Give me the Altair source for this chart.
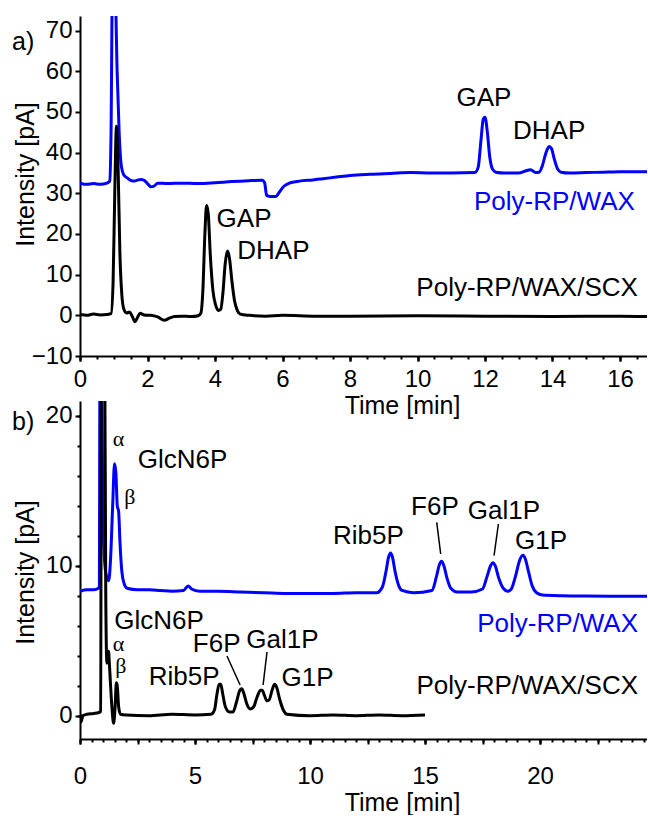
import altair as alt
import pandas as pd

FONT = "Liberation Sans"
SERIF = "Liberation Serif"
BLUE = "#0000ff"
BLACK = "#000000"

# ---------------- Panel a) data ----------------
a_wax_t = [0.0, 0.2, 0.4, 0.6, 0.8, 0.88, 0.92, 0.96, 1.04, 1.1, 1.16, 1.22, 1.3, 1.4, 1.5,
           1.62, 1.72, 1.82, 1.92, 2.02, 2.1, 2.2, 2.3, 2.6, 3.0, 3.5, 4.0, 4.5, 5.0, 5.4,
           5.47, 5.53, 5.65, 5.8, 5.9, 6.05, 6.2, 6.5, 6.9, 7.2, 7.6, 8.0, 8.6, 9.2, 9.8,
           10.4, 11.0, 11.7, 11.8, 11.88, 11.95, 12.0, 12.07, 12.14, 12.22, 12.32, 12.6,
           13.0, 13.2, 13.35, 13.5, 13.6, 13.7, 13.8, 13.9, 13.97, 14.05, 14.15, 14.25,
           14.5, 15.0, 15.5, 16.0, 16.8]
a_wax_v = [32.5, 32.2, 32.4, 32.2, 32.5, 33.0, 45.0, 80.0, 80.0, 60.0, 45.0, 37.0, 34.5, 33.8, 33.2,
           33.0, 33.3, 33.4, 33.1, 32.2, 31.6, 31.8, 32.5, 32.4, 32.5, 32.4, 32.6, 32.9, 33.1, 33.2,
           32.6, 29.5, 29.2, 29.2, 30.2, 31.8, 32.5, 33.0, 33.3, 33.6, 34.0, 34.4, 34.7, 34.9, 35.1,
           35.0, 35.0, 35.1, 36.5, 43.0, 48.3, 48.7, 45.0, 39.0, 36.0, 35.2, 35.0,
           35.0, 35.5, 35.8, 35.1, 35.2, 36.8, 39.8, 41.5, 41.0, 38.5, 36.0, 35.2,
           35.0, 35.1, 35.2, 35.3, 35.3]

a_scx_t = [0.0, 0.2, 0.4, 0.6, 0.8, 0.92, 0.98, 1.03, 1.08, 1.13, 1.18, 1.24, 1.3, 1.38, 1.47,
           1.55, 1.63, 1.7, 1.78, 1.9, 2.1, 2.3, 2.5, 2.65, 2.8, 3.0, 3.3, 3.5, 3.58, 3.64,
           3.7, 3.75, 3.8, 3.86, 3.94, 4.02, 4.1, 4.17, 4.24, 4.3, 4.37, 4.43, 4.5, 4.58,
           4.66, 4.75, 5.0, 5.5, 6.0, 7.0, 8.0, 10.0, 12.0, 14.0, 16.0, 16.8]
a_scx_v = [0.2, 0.0, 0.3, 0.1, 0.2, 0.4, 8.0, 30.0, 46.5, 36.0, 16.0, 5.0, 1.5, 0.6, 0.8,
           -0.3, -1.6, -0.6, 0.5, 0.1, 0.0, -0.4, -1.2, -0.7, -0.3, -0.2, -0.3, -0.1, 0.5, 6.0,
           20.0, 27.0, 25.0, 15.0, 6.0, 2.5, 1.2, 1.5, 6.0, 12.5, 15.8, 14.0, 8.5, 3.5,
           1.2, 0.3, 0.0, -0.2, 0.0, -0.2, -0.2, -0.1, -0.2, -0.3, -0.2, -0.3]

a_ann_label = ["GAP", "DHAP", "GAP", "DHAP"]
a_ann_t = [4.86, 5.73, 11.97, 13.9]
a_ann_v = [23.8, 15.9, 53.4, 45.4]

a_ser_label = ["Poly-RP/WAX", "Poly-RP/WAX/SCX"]
a_ser_t = [16.44, 16.53]
a_ser_v = [27.9, 6.7]
a_ser_color = [BLUE, BLACK]

a_x_labels = [0, 2, 4, 6, 8, 10, 12, 14, 16]
a_x_major = [0, 2, 4, 6, 8, 10, 12, 14, 16]
a_x_minor = [i * 0.5 for i in range(0, 34)]
a_y_labels = [-10, 0, 10, 20, 30, 40, 50, 60, 70]
a_y_minor = None

# ---------------- Panel b) data ----------------
b_wax_t = [0.0, 0.3, 0.6, 0.8, 0.84, 0.87, 0.93, 0.99, 1.06, 1.15, 1.25, 1.33, 1.42, 1.5, 1.56,
           1.62, 1.68, 1.74, 1.82, 1.92, 2.05, 2.5, 3.0, 3.5, 4.0, 4.5, 4.7, 4.85, 5.2, 6.0,
           7.0, 8.0, 9.0, 10.0, 11.0, 12.0, 12.9, 13.15, 13.3, 13.42, 13.5, 13.58, 13.7,
           13.85, 14.0, 14.5, 15.3, 15.5, 15.63, 15.72, 15.82, 15.95, 16.12, 16.4, 17.0,
           17.5, 17.7, 17.85, 17.95, 18.05, 18.2, 18.4, 18.6, 18.75, 18.95, 19.1, 19.25,
           19.35, 19.5, 19.65, 19.85, 20.1, 21.0, 22.0, 23.0, 24.65]
b_wax_v = [8.3, 8.4, 8.4, 8.5, 8.6, 25.0, 25.0, 14.0, 10.5, 9.3, 9.0, 10.5, 14.0, 16.8, 16.2,
           14.0, 13.6, 11.5, 9.6, 8.8, 8.5, 8.4, 8.4, 8.35, 8.3, 8.35, 8.65, 8.45, 8.3, 8.3,
           8.25, 8.2, 8.15, 8.15, 8.15, 8.2, 8.2, 8.6, 9.6, 10.6, 10.85, 10.6, 9.6,
           8.7, 8.35, 8.2, 8.35, 9.3, 10.1, 10.3, 10.0, 9.2, 8.5, 8.25, 8.25,
           8.45, 9.3, 10.0, 10.2, 10.0, 9.2, 8.5, 8.3, 8.45, 9.4, 10.3, 10.7,
           10.5, 9.6, 8.7, 8.2, 8.05, 8.0, 7.98, 7.97, 7.97]

b_scx_t = [0.0, 0.05, 0.12, 0.3, 0.6, 0.8, 0.9, 0.93, 1.07, 1.12, 1.17, 1.24, 1.28, 1.33, 1.4,
           1.46, 1.52, 1.58, 1.62, 1.68, 1.76, 2.0, 3.0, 4.0, 5.0, 5.7, 5.85, 5.95, 6.05,
           6.12, 6.2, 6.32, 6.5, 6.65, 6.8, 6.95, 7.03, 7.12, 7.25, 7.4, 7.55, 7.7, 7.85,
           7.92, 8.02, 8.12, 8.22, 8.35, 8.46, 8.55, 8.68, 8.85, 9.0, 10.0, 11.0, 12.0,
           13.0, 14.0, 15.0]
b_scx_v = [0.1, -0.4, 0.0, 0.1, 0.15, 0.2, 0.3, 25.0, 25.0, 8.0, 3.5, 4.3, 3.4, 2.0, 0.3,
           -0.5, 0.4, 2.2, 2.0, 0.6, 0.1, 0.05, 0.0, 0.1, 0.05, 0.1, 0.4, 1.4, 2.1,
           2.1, 1.5, 0.6, 0.25, 0.25, 0.9, 1.7, 1.8, 1.5, 0.8, 0.45, 0.6, 1.25, 1.7,
           1.7, 1.35, 1.0, 1.05, 1.7, 2.1, 1.9, 1.1, 0.35, 0.1, 0.0, 0.05, 0.0,
           0.05, 0.0, 0.05]

b_ann_label = ["GlcN6P", "GlcN6P", "Rib5P", "F6P", "Gal1P", "G1P", "Rib5P", "F6P", "Gal1P", "G1P"]
b_ann_t = [4.46, 3.44, 4.53, 5.94, 8.8, 9.89, 12.54, 15.43, 18.43, 20.04]
b_ann_v = [17.06, 6.3, 2.61, 4.78, 5.06, 2.51, 11.98, 13.91, 13.65, 11.65]

b_greek_label = ["α", "β", "α", "β"]
b_greek_t = [1.67, 2.17, 1.67, 1.78]
b_greek_v = [18.45, 14.6, 4.75, 3.3]

b_lead_t = [6.39, 8.13, 15.51, 18.19]
b_lead_v = [3.98, 4.25, 12.89, 12.78]
b_lead_t2 = [6.96, 7.96, 15.68, 18.0]
b_lead_v2 = [2.05, 2.05, 10.78, 10.67]

b_ser_label = ["Poly-RP/WAX", "Poly-RP/WAX/SCX"]
b_ser_t = [24.26, 24.26]
b_ser_v = [6.11, 1.95]
b_ser_color = [BLUE, BLACK]

b_x_labels = [0, 5, 10, 15, 20]
b_x_major = [0, 2.5, 5, 7.5, 10, 12.5, 15, 17.5, 20, 22.5]
b_x_minor = [i * 0.5 for i in range(0, 50)]
b_y_labels = [0, 10, 20]
b_y_minor = [0, 2, 4, 6, 8, 10, 12, 14, 16, 18, 20]

ANN_SIZE = 26


def tick_axis(values, size, orient):
    return alt.Axis(values=values, labels=False, domain=False, title=None, grid=False,
                    tickSize=size, orient=orient)


def panel(xdom, ydom, xlab, xmaj, xmin, ylab, ymin,
          wax, scx, ann, ser, tag, tag_y, x_lpad, x_title_y, y_title_y, height,
          greek=None, leads=None):
    xs = alt.Scale(domain=xdom, nice=False, zero=False)
    ys = alt.Scale(domain=ydom, nice=False, zero=False)
    x_main = alt.Axis(
        values=xlab, title="Time [min]", grid=False, tickSize=5, orient="bottom",
        labelPadding=x_lpad, labelFlush=False, labelOverlap=False,
        titleX=322, titleY=x_title_y, titleAlign="center", titleBaseline="middle",
    )
    y_main = alt.Axis(
        values=ylab, title="Intensity [pA]", grid=False, tickSize=5, orient="left",
        labelPadding=3, labelFlush=False, labelOverlap=False,
        titleX=-55, titleY=y_title_y, titleAngle=-90, titleAlign="center",
        titleBaseline="middle",
    )
    wax_df = pd.DataFrame({"t": wax[0], "v": wax[1]})
    scx_df = pd.DataFrame({"t": scx[0], "v": scx[1]})
    layers = [
        alt.Chart(wax_df).mark_line(color=BLUE, strokeWidth=3, clip=True,
                                    interpolate="monotone").encode(
            x=alt.X("t:Q", scale=xs, axis=x_main),
            y=alt.Y("v:Q", scale=ys, axis=y_main)),
        alt.Chart(scx_df).mark_line(color=BLACK, strokeWidth=3, clip=True,
                                    interpolate="monotone").encode(
            x=alt.X("t:Q", axis=tick_axis(xmaj, 5, "bottom")),
            y=alt.Y("v:Q", axis=(tick_axis(ymin, 3, "left") if ymin else None))),
    ]
    if leads is not None:
        ldf = pd.DataFrame({"t": leads[0], "v": leads[1], "t2": leads[2], "v2": leads[3]})
        layers.append(alt.Chart(ldf).mark_rule(color=BLACK, strokeWidth=1.5).encode(
            x=alt.X("t:Q", axis=None), y=alt.Y("v:Q", axis=None), x2="t2:Q", y2="v2:Q"))
    adf = pd.DataFrame({"label": ann[0], "t": ann[1], "v": ann[2]})
    layers.append(alt.Chart(adf).mark_text(font=FONT, fontSize=ANN_SIZE, color=BLACK,
                                           align="center", baseline="middle").encode(
        x=alt.X("t:Q", axis=tick_axis(xmin, 3, "bottom")), y=alt.Y("v:Q", axis=None),
        text="label:N"))
    if greek is not None:
        gdf = pd.DataFrame({"label": greek[0], "t": greek[1], "v": greek[2]})
        layers.append(alt.Chart(gdf).mark_text(font=SERIF, fontSize=22, color=BLACK,
                                               align="center", baseline="middle").encode(
            x=alt.X("t:Q", axis=None), y=alt.Y("v:Q", axis=None), text="label:N"))
    sdf = pd.DataFrame({"label": ser[0], "t": ser[1], "v": ser[2], "c": ser[3]})
    layers.append(alt.Chart(sdf).mark_text(font=FONT, fontSize=ANN_SIZE, align="right",
                                           baseline="middle").encode(
        x=alt.X("t:Q", axis=None), y=alt.Y("v:Q", axis=None), text="label:N",
        color=alt.Color("c:N", scale=None)))
    tdf = pd.DataFrame({"label": [tag]})
    layers.append(alt.Chart(tdf).mark_text(font=FONT, fontSize=25, color=BLACK,
                                           align="left", baseline="middle").encode(
        x=alt.value(-68), y=alt.value(tag_y), text="label:N"))
    return alt.layer(*layers).resolve_axis(x="independent", y="independent").properties(
        width=567, height=height)


pa = panel([0, 16.8], [-10, 73.6], a_x_labels, a_x_major, a_x_minor, a_y_labels, a_y_minor,
           (a_wax_t, a_wax_v), (a_scx_t, a_scx_v),
           (a_ann_label, a_ann_t, a_ann_v), (a_ser_label, a_ser_t, a_ser_v, a_ser_color),
           "a)", 26, 6, 49, 158, 340)

pb = panel([0, 24.65], [-1.55, 20.98], b_x_labels, b_x_major, b_x_minor, b_y_labels, b_y_minor,
           (b_wax_t, b_wax_v), (b_scx_t, b_scx_v),
           (b_ann_label, b_ann_t, b_ann_v), (b_ser_label, b_ser_t, b_ser_v, b_ser_color),
           "b)", 21, 20, 63, 171, 338,
           greek=(b_greek_label, b_greek_t, b_greek_v),
           leads=(b_lead_t, b_lead_v, b_lead_t2, b_lead_v2))

chart = alt.vconcat(pa, pb, spacing=45, bounds="flush").properties(
    padding={"left": 12, "top": 16, "right": 0, "bottom": 0}
).configure_view(stroke=None).configure_axis(
    labelFont=FONT, labelFontSize=24, labelColor=BLACK,
    titleFont=FONT, titleFontSize=25, titleColor=BLACK, titleFontWeight="normal",
    domainColor=BLACK, domainWidth=2, tickColor=BLACK, tickWidth=2,
)

chart.save("out.html", embed_options={"renderer": "svg", "actions": False})
